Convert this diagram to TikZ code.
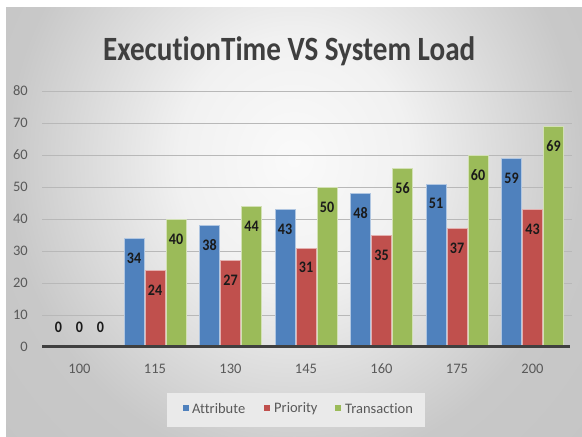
\documentclass[tikz,border=0pt]{standalone}
\usepackage{fontspec}
\setmainfont{Carlito}[Ligatures=NoCommon]
\usepackage{graphicx}
\definecolor{barA}{HTML}{4F81BD}
\definecolor{barP}{HTML}{C0504D}
\definecolor{barT}{HTML}{9BBB59}
\definecolor{titlec}{HTML}{3F3F3F}
\definecolor{tickc}{HTML}{595959}
\definecolor{gridc}{HTML}{B8B8B8}
\definecolor{axisc}{HTML}{404040}
\definecolor{labc}{HTML}{1A1A1A}
\definecolor{legc}{HTML}{EAEAEA}
\definecolor{bgC}{HTML}{FAFAFA}
\definecolor{bgM}{HTML}{F1F1F1}
\definecolor{bgE}{HTML}{C8C8C8}
\definecolor{bgO}{HTML}{C0C0C0}
\pgfdeclareradialshading{bgshade}{\pgfpointorigin}{color(0bp)=(bgC); color(10bp)=(bgM); color(25bp)=(bgE); color(50bp)=(bgO)}
\tikzset{
  ticklab/.style={inner sep=0pt, text=tickc, font=\fontsize{14.5}{14.5}\selectfont},
  datalabel/.style={inner sep=0pt, text=labc, font=\fontsize{16}{16}\selectfont\bfseries},
  legtext/.style={inner sep=0pt, anchor=west, text=tickc, font=\fontsize{14.5}{14.5}\selectfont},
  gridline/.style={draw=gridc, line width=0.8pt},
  barstyle/.style={line width=0.6pt},
}
\newcommand\drawbar[4]{%
  \pgfmathsetmacro\ytop{347-#2*3.2}%
  \ifnum#2=0 \pgfmathsetmacro\ylab{327}\else \pgfmathsetmacro\ylab{\ytop+20}%
    \filldraw[barstyle, fill=#3, draw=white!55!#3] (#1-10,347) rectangle (#1+10,\ytop);\fi
  \node[datalabel] (#4) at (#1,\ylab) {\scalebox{0.88}[1]{#2}};%
}
\begin{document}
\begin{tikzpicture}[x=1pt,y=-1pt]
\useasboundingbox (0,0) rectangle (582,437);
\fill[white] (0,0) rectangle (582,437);
\begin{scope}
  \clip (6,7) rectangle (582,437);
  \shade[shading=bgshade] (6,-150) rectangle (582,470);
\end{scope}
% title
\node[inner sep=0pt, anchor=base west, text=titlec] (title) at (103,60)
  {\resizebox{372pt}{\height}{\fontsize{34}{34}\selectfont\bfseries ExecutionTime VS System Load}};
% gridlines and y labels
\foreach \v in {10,20,...,80}{
  \draw[gridline] (42,{347-\v*3.2}) -- (572,{347-\v*3.2});
}
\foreach \v in {0,10,...,80}{
  \node[ticklab, anchor=east] (y\v) at (28,{347-\v*3.2}) {\v};
}
% bars
\foreach \i/\cat/\a/\p/\t in {0/100/0/0/0, 1/115/34/24/40, 2/130/38/27/44, 3/145/43/31/50, 4/160/48/35/56, 5/175/51/37/60, 6/200/59/43/69}{
  \pgfmathsetmacro\cx{79.5+75.5*\i}
  \drawbar{\cx-21}{\a}{barA}{a\i}
  \drawbar{\cx}{\p}{barP}{p\i}
  \drawbar{\cx+21}{\t}{barT}{t\i}
  \node[ticklab] (c\i) at (\cx,369) {\cat};
}
% axis
\draw[draw=axisc, line width=2.2pt] (42,346.5) -- (570,346.5);
% legend
\node[fill=legc, minimum width=258pt, minimum height=34pt, inner sep=0pt, anchor=north west] (legend) at (167,393) {};
\fill[barA] (183,405) rectangle (189,411);
\node[legtext] (lA) at (192,408.5) {Attribute};
\fill[barP] (264,405) rectangle (270,411);
\node[legtext] (lP) at (274,408.5) {Priority};
\fill[barT] (335,405) rectangle (341,411);
\node[legtext] (lT) at (345,408.5) {Transaction};
\end{tikzpicture}
\end{document}
